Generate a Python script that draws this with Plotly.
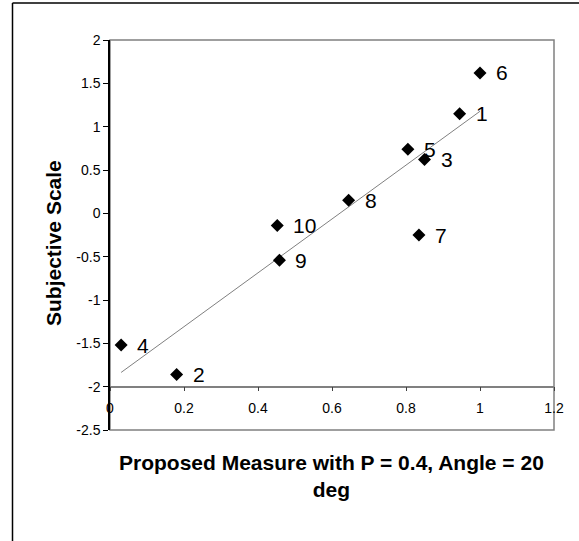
import numpy as np
import plotly.graph_objects as go

# ---- data ----
point_ids = ["1", "2", "3", "4", "5", "6", "7", "8", "9", "10"]
measure = [0.945, 0.18, 0.85, 0.03, 0.805, 1.0, 0.835, 0.645, 0.458, 0.452]
subjective = [1.15, -1.86, 0.62, -1.52, 0.74, 1.62, -0.25, 0.15, -0.54, -0.14]

x_ticks = [0, 0.2, 0.4, 0.6, 0.8, 1.0, 1.2]
x_ticktext = ["0", "0.2", "0.4", "0.6", "0.8", "1", "1.2"]
y_ticks = [-2.5, -2, -1.5, -1, -0.5, 0, 0.5, 1, 1.5, 2]
y_ticktext = ["-2.5", "-2", "-1.5", "-1", "-0.5", "0", "0.5", "1", "1.5", "2"]

x_title = "Proposed Measure with P = 0.4, Angle = 20<br>deg"
y_title = "Subjective Scale"

FONT = "Arial, Liberation Sans, sans-serif"
W, H = 579, 541
ML, MR, MT, MB = 110, 25, 40, 111
PW, PH = W - ML - MR, H - MT - MB
YMIN, YMAX = -2.5, 2
XAXIS_AT = -2


def px_to_paper_x(px):
    return (px - ML) / PW


def py_to_paper_y(py):
    return (H - MB - py) / PH


# linear trend line fitted from data
slope, intercept = np.polyfit(measure, subjective, 1)
tx = np.array([min(measure), max(measure)])
ty = slope * tx + intercept

fig = go.Figure()
fig.add_trace(go.Scatter(x=tx, y=ty, mode="lines",
                         line=dict(color="#808080", width=1),
                         hoverinfo="skip", showlegend=False))
fig.add_trace(go.Scatter(x=measure, y=subjective, mode="markers",
                         marker=dict(symbol="diamond", size=10, color="black",
                                     line=dict(width=0)),
                         showlegend=False))

annotations = []
for pid, xv, yv in zip(point_ids, measure, subjective):
    annotations.append(dict(x=xv, y=yv, xref="x", yref="y", text=pid,
                            showarrow=False, xanchor="left", yanchor="middle",
                            xshift=14, font=dict(family=FONT, size=21, color="black")))

annotations.append(dict(x=px_to_paper_x(54), y=py_to_paper_y(243), xref="paper", yref="paper",
                        text="<b>%s</b>" % y_title, textangle=-90, showarrow=False,
                        xanchor="center", yanchor="middle",
                        font=dict(family=FONT, size=21, color="black")))
annotations.append(dict(x=px_to_paper_x(331), y=py_to_paper_y(449), xref="paper", yref="paper",
                        text="<b>%s</b>" % x_title, showarrow=False,
                        xanchor="center", yanchor="top",
                        font=dict(family=FONT, size=21, color="black")))

shapes = [
    # plot frame (gray)
    dict(type="rect", xref="x domain", yref="y domain", x0=0, x1=1, y0=0, y1=1,
         line=dict(color="#808080", width=1.5), layer="below"),
    # outer chart border (left and top)
    dict(type="line", xref="paper", yref="paper",
         x0=px_to_paper_x(12.5), x1=px_to_paper_x(12.5),
         y0=py_to_paper_y(3), y1=py_to_paper_y(545),
         line=dict(color="black", width=1.5)),
    dict(type="line", xref="paper", yref="paper",
         x0=px_to_paper_x(12.5), x1=px_to_paper_x(585),
         y0=py_to_paper_y(3), y1=py_to_paper_y(3),
         line=dict(color="black", width=1.5)),
]

fig.update_layout(
    width=W, height=H,
    margin=dict(l=ML, r=MR, t=MT, b=MB, pad=0),
    paper_bgcolor="white", plot_bgcolor="white",
    font=dict(family=FONT, color="black"),
    showlegend=False,
    annotations=annotations,
    shapes=shapes,
    xaxis=dict(range=[0, 1.2], tickvals=x_ticks, ticktext=x_ticktext,
               showgrid=False, zeroline=False,
               showline=True, linecolor="#808080", linewidth=1.5,
               ticks="outside", ticklen=4, tickcolor="#404040", tickwidth=1,
               ticklabelstandoff=5,
               tickfont=dict(family=FONT, size=14, color="black"),
               anchor="free", position=(XAXIS_AT - YMIN) / (YMAX - YMIN)),
    yaxis=dict(range=[YMIN, YMAX], tickvals=y_ticks, ticktext=y_ticktext,
               showgrid=False, zeroline=False,
               showline=True, linecolor="black", linewidth=1.5,
               ticks="outside", ticklen=5, tickcolor="black", tickwidth=1,
               tickfont=dict(family=FONT, size=14, color="black")),
)

fig.write_html("out.html")
